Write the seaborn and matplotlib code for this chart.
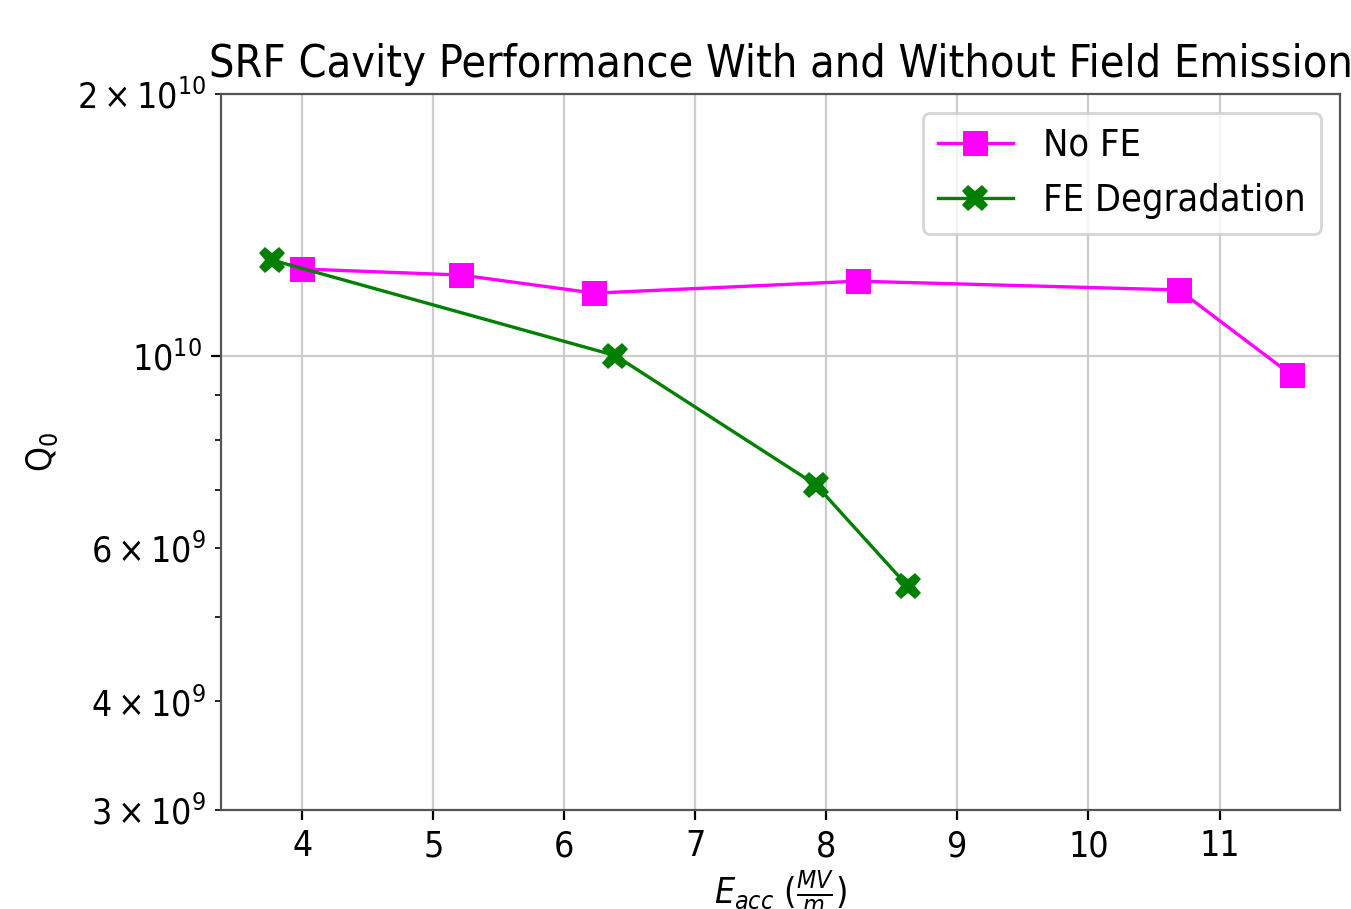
import matplotlib
matplotlib.use("Agg")
import matplotlib.pyplot as plt
import seaborn as sns
import numpy as np

# reference text is narrow -> condensed DejaVu
plt.rcParams["font.stretch"] = "condensed"

# -------------------------
# Data
# -------------------------
eacc_no_fe = [4.0, 5.21, 6.23, 8.24, 10.69, 11.55]
q0_no_fe = [1.258e10, 1.238e10, 1.18e10, 1.218e10, 1.19e10, 9.5e9]

eacc_fe = [3.77, 6.39, 7.92, 8.62]
q0_fe = [1.288e10, 1.0e10, 7.1e9, 5.43e9]

series_labels = ["No FE", "FE Degradation"]

# -------------------------
# Figure
# -------------------------
fig = plt.figure(figsize=(6.755, 4.545), dpi=200)
ax = fig.add_axes([0.1636, 0.1089, 0.8283, 0.7877])

sns.lineplot(x=eacc_no_fe, y=q0_no_fe, ax=ax, color="magenta", marker="s",
             markersize=9, markeredgewidth=0, linewidth=1.2, label=series_labels[0])
sns.lineplot(x=eacc_fe, y=q0_fe, ax=ax, color="green", marker="X",
             markersize=9.5, markeredgewidth=0, linewidth=1.2, label=series_labels[1])

ax.set_yscale("log")
ax.set_ylim(3e9, 2e10)
ax.set_xlim(3.38, 11.92)
ax.set_xticks([4, 5, 6, 7, 8, 9, 10, 11])
ax.grid(True, which="major", color="#cccccc", linewidth=0.8)

ax.tick_params(axis="both", which="both", labelsize=12.8)
ax.set_title("SRF Cavity Performance With and Without Field Emission", fontsize=16.1)
ax.set_xlabel(r"$E_{acc}$ ($\frac{MV}{m}$)", fontsize=12.8, labelpad=2)
ax.set_ylabel(r"Q$_0$", fontsize=12.8, labelpad=6)
for s in ax.spines.values():
    s.set_color("#555555")

ax.legend(loc="upper right", fontsize=13.6, handlelength=2.0)

plt.savefig("out.png", dpi=200)
